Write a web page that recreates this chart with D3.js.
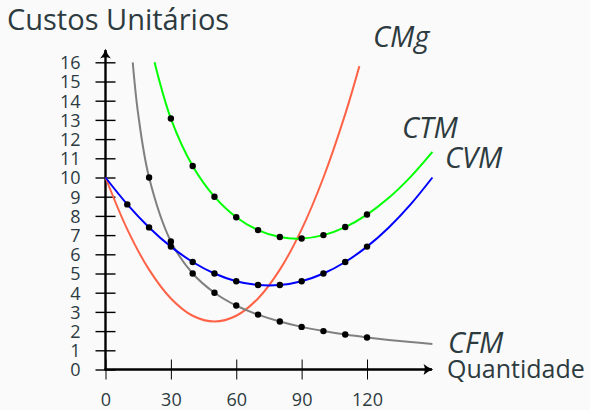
<!DOCTYPE html>
<html>
<head>
<meta charset="utf-8">
<script src="https://cdn.jsdelivr.net/npm/d3@7"></script>
<style>
  body { margin: 0; background: #fafafa; }
  svg { display: block; }
  .lbl { font-family: "Open Sans", sans-serif; fill: #2d3b3f; }
  .tick text { font-family: "Open Sans", sans-serif; fill: #2d3b3f; }
</style>
</head>
<body>
<svg id="chart" width="590" height="410"></svg>
<script>
// Quantidade (x) e custos unitários (y)
const cvmQ = [0, 10, 20, 30, 40, 50, 60, 70, 80, 90, 100, 110, 120, 130, 140, 150];
const cvm = [10, 8.6, 7.4, 6.4, 5.6, 5.0, 4.6, 4.4, 4.4, 4.6, 5.0, 5.6, 6.4, 7.4, 8.6, 10];

const ctmQ = [22.5, 30, 40, 50, 60, 70, 80, 90, 100, 110, 120, 130, 140, 150];
const ctm = [16.0, 13.07, 10.6, 9.0, 7.93, 7.26, 6.9, 6.82, 7.0, 7.42, 8.07, 8.94, 10.03, 11.33];

const cfmQ = [12.5, 15, 20, 30, 40, 50, 60, 70, 80, 90, 100, 110, 120, 130, 140, 150];
const cfm = [16, 13.3, 10, 6.67, 5, 4, 3.33, 2.86, 2.5, 2.22, 2.0, 1.82, 1.67, 1.54, 1.43, 1.33];

const cmgQ = [0, 10, 20, 30, 40, 50, 60, 70, 80, 90, 100, 110, 116.5];
const cmg = [10, 7.3, 5.2, 3.7, 2.8, 2.5, 2.8, 3.7, 5.2, 7.3, 10, 13.3, 15.8];

// pontos marcados em cada curva
const cvmMarks = [10, 20, 30, 40, 50, 60, 70, 80, 90, 100, 110, 120];
const ctmMarks = [30, 40, 50, 60, 70, 80, 90, 100, 110, 120];
const cfmMarks = [20, 30, 40, 50, 60, 70, 80, 90, 100, 110, 120];

const xTicks = [0, 30, 60, 90, 120];
const yTicks = [0, 1, 2, 3, 4, 5, 6, 7, 8, 9, 10, 11, 12, 13, 14, 15, 16];

const svg = d3.select("#chart");

const x = d3.scaleLinear().domain([0, 150]).range([105.5, 432.4]);
const y = d3.scaleLinear().domain([0, 16]).range([369.5, 62.3]);

// arrow marker
svg.append("defs")
  .append("marker")
  .attr("id", "arrow")
  .attr("viewBox", "-8 -5 10 10")
  .attr("refX", 0)
  .attr("refY", 0)
  .attr("markerUnits", "userSpaceOnUse")
  .attr("markerWidth", 12)
  .attr("markerHeight", 12)
  .attr("orient", "auto")
  .append("path")
  .attr("d", "M-7,-4.5 Q-3,-1 1,0 Q-3,1 -7,4.5 Q-5,0 -7,-4.5 Z")
  .attr("fill", "#000");

// y axis
const gy = svg.append("g")
  .attr("transform", `translate(${x(0)},0)`)
  .call(d3.axisLeft(y).tickValues(yTicks).tickSize(10).tickPadding(15));
gy.select(".domain").remove();
gy.selectAll(".tick line").attr("x1", 10).attr("stroke", "#000").attr("stroke-width", 1.4);
gy.selectAll(".tick text").style("font-size", "18px").attr("dy", "0.36em");

// x axis
const gx = svg.append("g")
  .attr("transform", `translate(0,${y(0)})`)
  .call(d3.axisBottom(x).tickValues(xTicks).tickSize(10).tickPadding(14));
gx.select(".domain").remove();
gx.selectAll(".tick line").attr("y1", -10).attr("stroke", "#000").attr("stroke-width", 1);
gx.selectAll(".tick text").style("font-size", "18px");

// axis lines with arrows
svg.append("line")
  .attr("x1", x(0)).attr("y1", y(0))
  .attr("x2", x(0)).attr("y2", 50)
  .attr("stroke", "#000").attr("stroke-width", 2.4)
  .attr("marker-end", "url(#arrow)");
svg.append("line")
  .attr("x1", x(0) - 1.2).attr("y1", y(0))
  .attr("x2", 432).attr("y2", y(0))
  .attr("stroke", "#000").attr("stroke-width", 2.4)
  .attr("marker-end", "url(#arrow)");

// curves
const line = d3.line()
  .x((d) => x(d[0]))
  .y((d) => y(d[1]))
  .curve(d3.curveCatmullRom.alpha(0.5));

const series = [
  { q: cmgQ, v: cmg, color: "#ff6347" },
  { q: cfmQ, v: cfm, color: "#808080" },
  { q: ctmQ, v: ctm, color: "#00ff00" },
  { q: cvmQ, v: cvm, color: "#0000ff" },
];

svg.append("g")
  .selectAll("path")
  .data(series)
  .join("path")
  .attr("d", (s) => line(s.q.map((q, i) => [q, s.v[i]])))
  .attr("fill", "none")
  .attr("stroke", (s) => s.color)
  .attr("stroke-width", 2);

// dots
function marks(qs, vs, keep) {
  return qs.map((q, i) => [q, vs[i]]).filter((d) => keep.includes(d[0]));
}
const dots = [].concat(
  marks(cvmQ, cvm, cvmMarks),
  marks(ctmQ, ctm, ctmMarks),
  marks(cfmQ, cfm, cfmMarks)
);
svg.append("g")
  .selectAll("circle")
  .data(dots)
  .join("circle")
  .attr("cx", (d) => x(d[0]))
  .attr("cy", (d) => y(d[1]))
  .attr("r", 3.2)
  .attr("fill", "#000");

// labels
svg.append("text").attr("class", "lbl")
  .attr("x", 7).attr("y", 30)
  .style("font-size", "29px")
  .text("Custos Unitários");
svg.append("text").attr("class", "lbl")
  .attr("x", 447).attr("y", 378)
  .style("font-size", "25px")
  .text("Quantidade");

const curveLabels = [
  { t: "CMg", x: 373, y: 47 },
  { t: "CTM", x: 402, y: 138 },
  { t: "CVM", x: 445, y: 168 },
  { t: "CFM", x: 448, y: 353 },
];
svg.append("g")
  .selectAll("text")
  .data(curveLabels)
  .join("text")
  .attr("class", "lbl")
  .attr("x", (d) => d.x)
  .attr("y", (d) => d.y)
  .style("font-size", "29px")
  .style("font-style", "italic")
  .text((d) => d.t);
</script>
</body>
</html>
